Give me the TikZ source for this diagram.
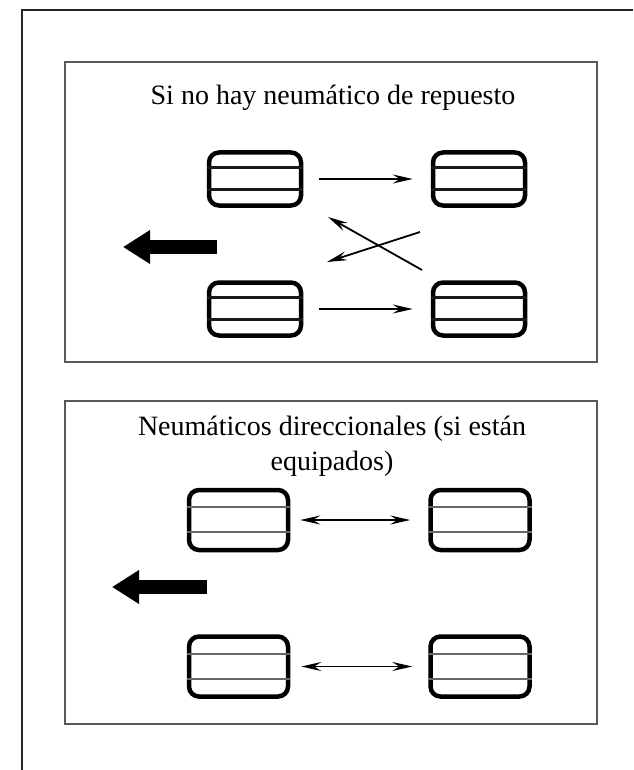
\documentclass[tikz,border=0pt]{standalone}
\usepackage{fontspec}
\setmainfont{Liberation Serif}
\usepackage{tikz}
\usetikzlibrary{arrows.meta,positioning,calc}

\begin{document}
\begin{tikzpicture}[x=1pt,y=-1pt,font=\fontsize{28}{35}\selectfont,
    >={Stealth[length=20pt,width=9pt,inset=7pt]},
    tyre/.style={draw,line width=4.5pt,rounded corners=10pt,inner sep=0pt},
    tyreA/.style={tyre,minimum width=92pt,minimum height=53pt},
    tyreB/.style={tyre,minimum width=99pt,minimum height=60pt},
    swap/.style={line width=1.8pt},
    frame/.style={draw=black!65,line width=2.5pt},
    heading/.style={line width=14pt,-{Triangle[length=27pt,width=32pt]}}]
  \useasboundingbox (0,0) rectangle (633,770);
  % outer frame and panels
  \draw[black!85,line width=2pt] (22,770) -- (22,10) -- (633,10);
  \draw[frame] (65,62) rectangle (597,362);
  \draw[frame] (65,401) rectangle (597,724);
  % panel 1
  \node[anchor=base] (t1) at (333,105) {Si no hay neumático de repuesto};
  \node[tyreA] (fl1) at (255,179) {};
  \node[tyreA] (fr1) at (479,179) {};
  \node[tyreA] (rl1) at (255,309) {};
  \node[tyreA] (rr1) at (479,309) {};
  \foreach \w in {fl1,fr1,rl1,rr1} {
    \draw[black!90,line width=2.6pt] ($(\w.north west)!0.3!(\w.south west)$) -- ($(\w.north east)!0.3!(\w.south east)$);
    \draw[black!90,line width=2.6pt] ($(\w.north west)!0.68!(\w.south west)$) -- ($(\w.north east)!0.68!(\w.south east)$);
  }
  \draw[swap,->,shorten <=16pt,shorten >=18pt] (fl1) -- (fr1);
  \draw[swap,->,shorten <=16pt,shorten >=18pt] (rl1) -- (rr1);
  \coordinate (xa1) at (328,217);
  \coordinate (xa2) at (422,270);
  \coordinate (xb1) at (420,232);
  \coordinate (xb2) at (327,262);
  \draw[swap,->] (xa2) -- (xa1);
  \draw[swap,->] (xb1) -- (xb2);
  \coordinate (d1a) at (217,247);
  \coordinate (d1b) at (123,247);
  \draw[heading] (d1a) -- (d1b);
  % panel 2
  \node[anchor=north,align=center] (t2) at (332,412) {Neumáticos direccionales (si están\\equipados)};
  \node[tyreB] (fl2) at (238.5,520) {};
  \node[tyreB] (fr2) at (480,520) {};
  \node[tyreB] (rl2) at (238.5,666.5) {};
  \node[tyreB] (rr2) at (480,666.5) {};
  \foreach \w in {fl2,fr2,rl2,rr2} {
    \draw[black!60,line width=2pt] ($(\w.north west)!0.3!(\w.south west)$) -- ($(\w.north east)!0.3!(\w.south east)$);
    \draw[black!60,line width=2pt] ($(\w.north west)!0.69!(\w.south west)$) -- ($(\w.north east)!0.69!(\w.south east)$);
  }
  \draw[swap,<->,shorten <=10pt,shorten >=18pt] (fl2) -- (fr2);
  \draw[swap,<->,shorten <=11pt,shorten >=16pt] (rl2) -- (rr2);
  \coordinate (d2a) at (207,587);
  \coordinate (d2b) at (112,587);
  \draw[heading] (d2a) -- (d2b);
\end{tikzpicture}
\end{document}
